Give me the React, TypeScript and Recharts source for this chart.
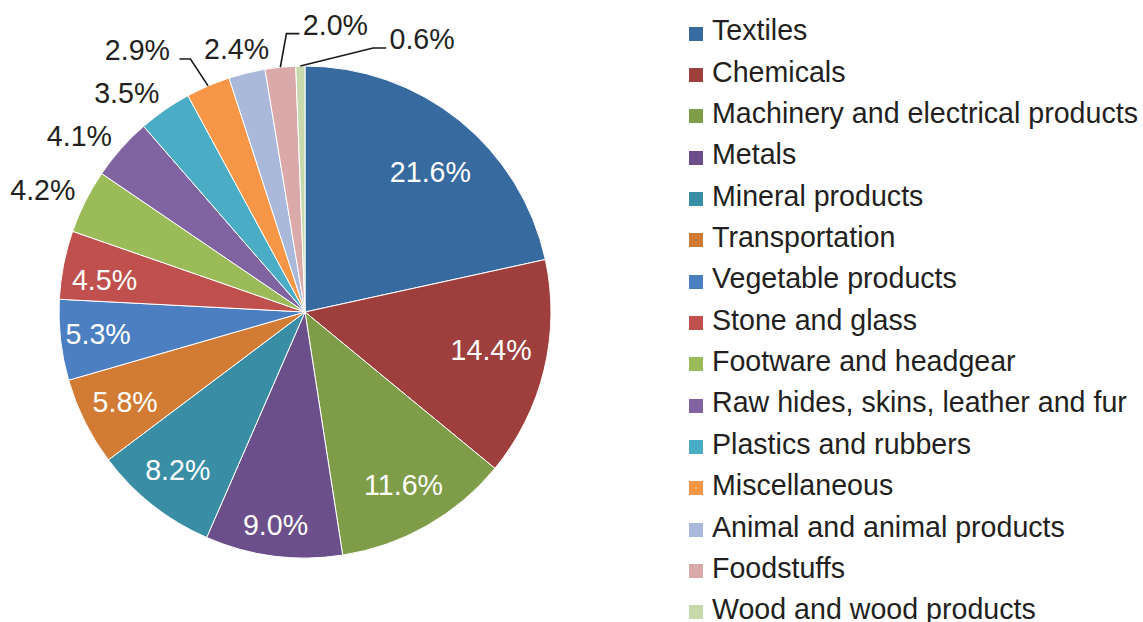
import { Cell, Legend, Pie, PieChart } from "recharts";

// Shares of imports by product group, in percent, clockwise from 12 o'clock.
const CATEGORIES = [
  "Textiles",
  "Chemicals",
  "Machinery and electrical products",
  "Metals",
  "Mineral products",
  "Transportation",
  "Vegetable products",
  "Stone and glass",
  "Footware and headgear",
  "Raw hides, skins, leather and fur",
  "Plastics and rubbers",
  "Miscellaneous",
  "Animal and animal products",
  "Foodstuffs",
  "Wood and wood products",
];
const SHARES = [21.6, 14.4, 11.6, 9.0, 8.2, 5.8, 5.3, 4.5, 4.2, 4.1, 3.5, 2.9, 2.4, 2.0, 0.6];

const COLORS = [
  "#376a9f", "#9e3f3d", "#7f9c48", "#6a4f8a", "#398ea5",
  "#d27b34", "#4b7fc1", "#c0504d", "#9bbb59", "#8064a2",
  "#4bacc6", "#f79646", "#aab9da", "#d9aaa9", "#c9d9ae",
];

// where each label sits: [radius in px, angle nudge in degrees]
// first 8 are inside the slice, the rest outside (Excel "best fit" look)
const LABEL_PLACE: [number, number][] = [
  [188, -3], [190, 2], [199, 0], [215, -0.5], [203, -0.5], [201, 0], [208, -0.5], [203, 2],
  [289, 1.8], [286, 3.7], [282, 4.5], [311, 9.4], [272, 0.9], [289, -11.8], [297, -24.3],
];
const INSIDE_COUNT = 8;
// slices whose label got pushed aside and needs a leader line
const LEADER = [11, 13, 14];

const RADIAN = Math.PI / 180;
const FONT = '"Liberation Sans", Arial, sans-serif';
const OUTER_R = 246;
const FONT_SIZE = 28.6;

const chartData = CATEGORIES.map((name, i) => ({ name, value: SHARES[i], fill: COLORS[i] }));

function renderLabel(props: any) {
  const { cx, cy, midAngle, index } = props;
  const [r, nudge] = LABEL_PLACE[index];
  const a = (midAngle + nudge) * RADIAN;
  const x = cx + r * Math.cos(a);
  const y = cy - r * Math.sin(a);
  const text = SHARES[index].toFixed(1) + "%";
  const inside = index < INSIDE_COUNT;

  let leader = null;
  if (LEADER.includes(index)) {
    const e = midAngle * RADIAN;
    const ex = cx + OUTER_R * Math.cos(e);
    const ey = cy - OUTER_R * Math.sin(e);
    const half = 32;
    const lineY = y + 9;
    let endX, elbowX;
    if (x < cx) {
      endX = x + half + 10;
      elbowX = endX + 11;
    } else {
      endX = x - half - 4;
      elbowX = endX - 13;
    }
    leader = (
      <path
        d={`M${ex},${ey}L${elbowX},${lineY}L${endX},${lineY}`}
        stroke="#1a1a1a"
        strokeWidth={1.6}
        fill="none"
      />
    );
  }

  return (
    <g key={`lbl-${index}`}>
      {leader}
      <text
        x={x}
        y={y}
        textAnchor="middle"
        dominantBaseline="central"
        fontFamily={FONT}
        fontSize={FONT_SIZE}
        fill={inside ? "#ffffff" : "#231f20"}
      >
        {text}
      </text>
    </g>
  );
}

function renderLegend() {
  return (
    <ul style={{ listStyle: "none", margin: 0, padding: 0 }}>
      {CATEGORIES.map((name, i) => (
        <li
          key={name}
          style={{ height: 41.35, display: "flex", alignItems: "center", whiteSpace: "nowrap" }}
        >
          <span
            style={{
              width: 14,
              height: 14,
              background: COLORS[i],
              marginRight: 9,
              transform: "translateY(3px)",
              flexShrink: 0,
            }}
          />
          <span style={{ fontSize: FONT_SIZE, lineHeight: 1, color: "#231f20", fontFamily: FONT }}>{name}</span>
        </li>
      ))}
    </ul>
  );
}

export default function App() {
  return (
    <div style={{ position: "absolute", left: 0, top: 0, width: 1143, height: 622, background: "#fff", fontFamily: FONT }}>
      <PieChart width={1143} height={622} margin={{ top: 0, right: 0, bottom: 0, left: 0 }}>
        <Pie
          data={chartData}
          dataKey="value"
          nameKey="name"
          cx={305}
          cy={312}
          outerRadius={OUTER_R}
          startAngle={90}
          endAngle={-270}
          stroke="#ffffff"
          strokeWidth={1}
          label={renderLabel}
          labelLine={false}
          isAnimationActive={false}
        >
          {chartData.map((d) => (
            <Cell key={d.name} fill={d.fill} />
          ))}
        </Pie>
        <Legend layout="vertical" wrapperStyle={{ left: 689, top: 10, width: 454 }} content={renderLegend} />
      </PieChart>
    </div>
  );
}
